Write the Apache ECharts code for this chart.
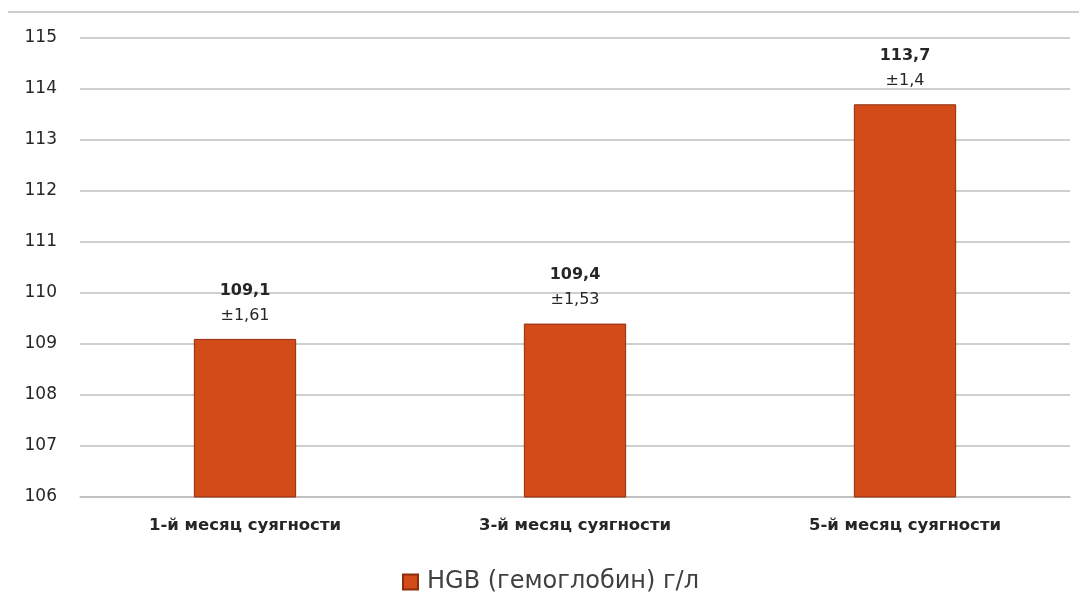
<!DOCTYPE html>
<html>
<head>
<meta charset="utf-8">
<script src="https://cdn.jsdelivr.net/npm/echarts@6/dist/echarts.min.js"></script>
<style>
  html, body { margin: 0; padding: 0; background: #fff; }
  #chart { width: 1079px; height: 610px; }
</style>
</head>
<body>
<div id="chart"></div>
<script>
// Haemoglobin by month of pregnancy
const categories = ['1-й месяц суягности', '3-й месяц суягности', '5-й месяц суягности'];
const hgbMean = [109.1, 109.4, 113.7];
const hgbSd = ['±1,61', '±1,53', '±1,4'];
const seriesName = 'HGB (гемоглобин) г/л';

const fontFamily = '"DejaVu Sans", sans-serif';
const chart = echarts.init(document.getElementById('chart'));

chart.setOption({
  animation: false,
  backgroundColor: '#ffffff',
  textStyle: { fontFamily: fontFamily },
  graphic: [{
    type: 'line',
    shape: { x1: 8, y1: 12, x2: 1079, y2: 12 },
    style: { stroke: '#bdbdbd', lineWidth: 1.5 }
  }],
  grid: { left: 80, right: 9, top: 38, bottom: 113 },
  legend: {
    top: 565,
    left: 397,
    itemWidth: 15,
    itemHeight: 15,
    itemGap: 10,
    icon: 'rect',
    textStyle: { fontSize: 24, color: '#404040', fontFamily: fontFamily, padding: [0, 0, 0, 4] },
    data: [seriesName]
  },
  xAxis: {
    type: 'category',
    data: categories,
    axisLine: { lineStyle: { color: '#bfbfbf', width: 1.5 } },
    axisTick: { show: false },
    axisLabel: { fontSize: 16.5, fontWeight: 'bold', color: '#262626', margin: 20 }
  },
  yAxis: {
    type: 'value',
    min: 106,
    max: 115,
    interval: 1,
    axisLine: { show: false },
    axisTick: { show: false },
    axisLabel: { fontSize: 17, color: '#262626', margin: 23 },
    splitLine: { lineStyle: { color: '#bfbfbf', width: 1.5 } }
  },
  series: [{
    name: seriesName,
    type: 'bar',
    barWidth: '31%',
    data: hgbMean,
    itemStyle: { color: '#d24b19', borderColor: '#8c2d0d', borderWidth: 1 },
    label: {
      show: true,
      position: 'top',
      distance: 11,
      formatter: function (p) {
        return '{v|' + String(p.value).replace('.', ',') + '}\n{s|' + hgbSd[p.dataIndex] + '}';
      },
      rich: {
        v: { fontSize: 16, fontWeight: 'bold', color: '#262626', lineHeight: 25, fontFamily: fontFamily },
        s: { fontSize: 16, color: '#262626', lineHeight: 25, fontFamily: fontFamily }
      }
    }
  }]
});
</script>
</body>
</html>
